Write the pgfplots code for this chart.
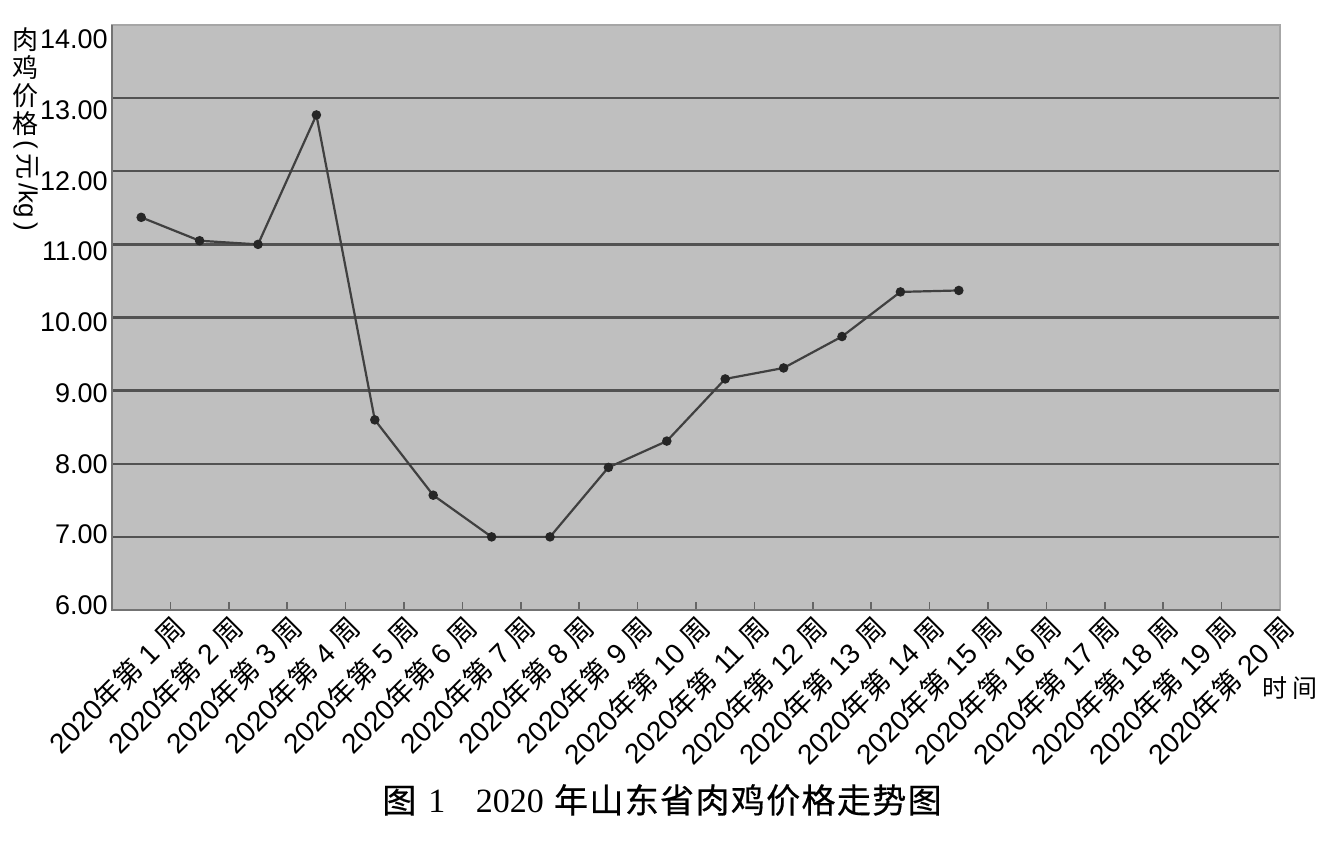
\documentclass[border=0pt]{standalone}
\usepackage{fontspec}
\setmainfont{Liberation Sans}
\newfontfamily\cjk{Noto Sans CJK SC}
\newfontfamily\cjkcap[FakeBold=0.5,LetterSpace=4]{Noto Sans CJK SC}
\newfontfamily\serifnum{Liberation Serif}
\usepackage{pgfplots}
\pgfplotsset{compat=1.18}

\newcommand{\wk}[1]{2020{\cjk 年第} #1 {\cjk 周}}

\begin{document}
\begin{tikzpicture}
  \path[use as bounding box] (-56pt,-118.5pt) rectangle (612pt,305pt);
  \begin{axis}[
      at={(0,0)}, anchor=south west,
      scale only axis, width=584pt, height=292.5pt,
      xmin=0.5, xmax=20.5, ymin=6, ymax=14,
      xtick={1.5,2.5,3.5,4.5,5.5,6.5,7.5,8.5,9.5,10.5,11.5,12.5,13.5,14.5,15.5,16.5,17.5,18.5,19.5,20.5},
      xticklabels={{\wk{1}},{\wk{2}},{\wk{3}},{\wk{4}},{\wk{5}},{\wk{6}},{\wk{7}},{\wk{8}},{\wk{9}},{\wk{10}},
                   {\wk{11}},{\wk{12}},{\wk{13}},{\wk{14}},{\wk{15}},{\wk{16}},{\wk{17}},{\wk{18}},{\wk{19}},{\wk{20}}},
      ytick={6,7,8,9,10,11,12,13,14},
      /pgf/number format/assume math mode=true,
      % labels sit a little off their grid lines in the original
      yticklabel={\pgfmathsetmacro\sh{2.5-1.1875*(\tick-6)-4.8}%
        \raisebox{\sh pt}[0pt][0pt]{\pgfmathprintnumber[fixed,fixed zerofill,precision=2]{\tick}}},
      yticklabel style={font=\fontsize{13.5}{13.5}\selectfont, inner sep=2pt},
      xticklabel style={rotate=45, anchor=north east, font=\fontsize{14}{14}\selectfont, inner sep=1pt},
      xtick pos=left, ytick pos=left,
      tick align=inside, major tick length=4pt,
      y tick style={draw=none},
      x tick style={draw=black!60, line width=0.8pt},
      ymajorgrids,
      major grid style={draw=black!68, line width=1.2pt},
      axis background/.style={fill=black!25},
      axis line style={draw=black!35, line width=0.6pt},
      clip=false,
    ]
    \addplot[color=black!75, line width=1.1pt, mark=*, mark size=1.8pt,
             mark options={fill=black!85, draw=black!85}] coordinates {
      (1,11.37) (2,11.05) (3,11.00) (4,12.77) (5,8.60) (6,7.57) (7,7.00) (8,7.00)
      (9,7.95) (10,8.31) (11,9.16) (12,9.31) (13,9.74) (14,10.35) (15,10.37)
    };
    \draw[black!55, line width=1.2pt] (rel axis cs:0,1) -- (rel axis cs:0,0) -- (rel axis cs:1,0);
  \end{axis}
  % y axis title
  \node[anchor=north, align=center, inner sep=0pt, font=\cjk\fontsize{13}{14}\selectfont]
    (yl) at (-43pt,291.5pt) {肉\\鸡\\价\\格};
  \node[rotate=-90, anchor=west, inner sep=0pt, font=\fontsize{13}{13}\selectfont]
    at ([yshift=-2pt]yl.south) {(\,{\cjk 元}\,/kg\,)};
  % x axis title
  \node[font=\cjk\fontsize{12.5}{12.5}\selectfont] at (589pt,-39pt) {时\,间};
  % caption
  \node[font=\fontsize{17}{17}\selectfont] at (275pt,-95pt)
    {{\cjkcap 图}\hspace{0.35em}{\serifnum 1}\hspace{0.9em}{\serifnum 2020}\hspace{0.3em}{\cjkcap 年山东省肉鸡价格走势图}};
\end{tikzpicture}
\end{document}
